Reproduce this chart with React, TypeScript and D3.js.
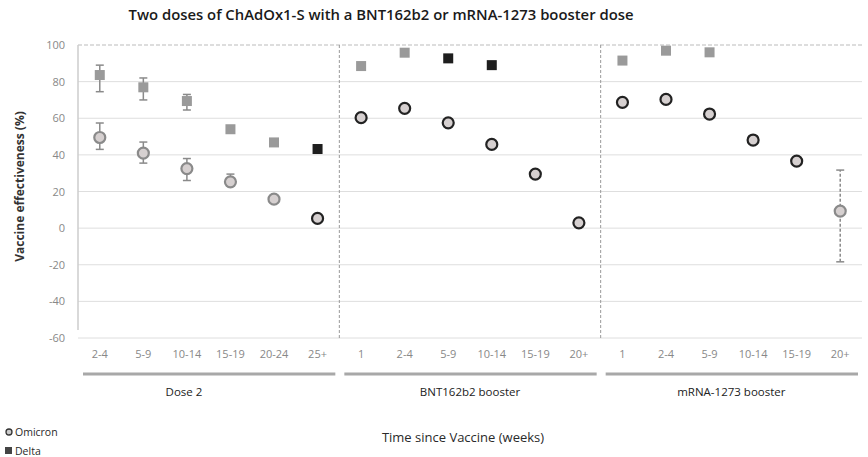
import React from "react";
import * as d3 from "d3";

// panels and their time bands
const panels = ["Dose 2", "BNT162b2 booster", "mRNA-1273 booster"];
const dose2Bands = ["2-4", "5-9", "10-14", "15-19", "20-24", "25+"];
const bntBands = ["1", "2-4", "5-9", "10-14", "15-19", "20+"];
const mrnaBands = ["1", "2-4", "5-9", "10-14", "15-19", "20+"];

// Omicron VE (%) per band, panel by panel
const omicronVE = [49.5, 41, 32.5, 25.3, 15.8, 5.3, 60.3, 65.4, 57.5, 45.7, 29.5, 2.9, 68.7, 70.3, 62.3, 48.1, 36.6, 9.3];
const omicronLo = [43, 35.5, 26, 23, null, null, null, null, null, null, null, null, null, null, null, null, null, -18.4];
const omicronHi = [57.4, 47, 38, 29.5, null, null, null, null, null, null, null, null, null, null, null, null, null, 31.7];
const omicronDark = [false, false, false, false, false, true, true, true, true, true, true, true, true, true, true, true, true, false];

// Delta VE (%) per band
const deltaVE = [83.6, 76.9, 69.4, 54, 46.8, 43.2, 88.5, 95.8, 92.7, 89, null, null, 91.5, 96.9, 96, null, null, null];
const deltaLo = [74.5, 70, 64.5, null, null, null, null, null, null, null, null, null, null, null, null, null, null, null];
const deltaHi = [89, 82, 73, null, null, null, null, null, null, null, null, null, null, null, null, null, null, null];
const deltaDark = [false, false, false, false, false, true, false, false, true, true, false, false, false, false, false, false, false, false];

const yTicks = [100, 80, 60, 40, 20, 0, -20, -40, -60];

const W = 868;
const H = 457;
const FONT = "'Open Sans', 'Liberation Sans', sans-serif";

export default function App() {
  const left = 78;
  const right = 862;
  const top = 45;
  const bottom = 338;

  const bandSets = [dose2Bands, bntBands, mrnaBands];
  const keys = bandSets.flatMap((b, p) => b.map((c) => `${p}|${c}`));

  const x = d3.scaleBand<string>().domain(keys).range([left, right]);
  const y = d3.scaleLinear().domain([-60, 100]).range([bottom, top]);

  const cx = (i: number) => (x(keys[i]) as number) + x.bandwidth() / 2;
  const panelStart = (p: number) => x(keys[p * 6]) as number;
  const panelEnd = (p: number) => (x(keys[p * 6 + 5]) as number) + x.bandwidth();

  const cap = 4;

  return (
    <div style={{ position: "absolute", left: 0, top: 0 }}>
      <svg width={W} height={H} style={{ display: "block", background: "#fff" }} fontFamily={FONT}>
        {/* title */}
        <text x={381} y={20} textAnchor="middle" fontSize={13.5} fontWeight={600} fill="#1a1a1a" textLength={505} lengthAdjust="spacingAndGlyphs">
          Two doses of ChAdOx1-S with a BNT162b2 or mRNA-1273 booster dose
        </text>

        {/* gridlines */}
        {yTicks.map((t) => (
          <line key={`g${t}`} x1={left} x2={right} y1={y(t)} y2={y(t)} stroke={t === 100 ? "#bbb" : "#dedede"} strokeWidth={1}
            strokeDasharray={t === 100 ? "4,2" : undefined} />
        ))}

        {/* y axis */}
        <line x1={left} x2={left} y1={top} y2={bottom - 8} stroke="#ccc" strokeWidth={1.5} />
        {yTicks.map((t) => (
          <text key={`t${t}`} x={65} y={y(t) + 4} textAnchor="end" fontSize={11} fill="#888">
            {t}
          </text>
        ))}
        <text transform={`translate(24,${(top + bottom) / 2 - 5}) rotate(-90)`} textAnchor="middle" fontSize={12} fontWeight="bold" fill="#333">
          Vaccine effectiveness (%)
        </text>

        {/* panel dividers */}
        {[1, 2].map((p) => (
          <line key={`d${p}`} x1={panelStart(p)} x2={panelStart(p)} y1={top} y2={bottom} stroke="#999" strokeWidth={1} strokeDasharray="3,2" />
        ))}

        {/* error bars */}
        {omicronVE.map((v, i) =>
          omicronLo[i] == null ? null : (
            <g key={`oe${i}`} stroke="#8a8a8a" strokeWidth={1.5}>
              <line x1={cx(i)} x2={cx(i)} y1={y(omicronLo[i] as number)} y2={y(omicronHi[i] as number)} strokeDasharray={i === 17 ? "3,2" : undefined} />
              <line x1={cx(i) - cap} x2={cx(i) + cap} y1={y(omicronLo[i] as number)} y2={y(omicronLo[i] as number)} />
              <line x1={cx(i) - cap} x2={cx(i) + cap} y1={y(omicronHi[i] as number)} y2={y(omicronHi[i] as number)} />
            </g>
          )
        )}
        {deltaVE.map((v, i) =>
          deltaLo[i] == null ? null : (
            <g key={`de${i}`} stroke="#8a8a8a" strokeWidth={1.5}>
              <line x1={cx(i)} x2={cx(i)} y1={y(deltaLo[i] as number)} y2={y(deltaHi[i] as number)} />
              <line x1={cx(i) - cap} x2={cx(i) + cap} y1={y(deltaLo[i] as number)} y2={y(deltaLo[i] as number)} />
              <line x1={cx(i) - cap} x2={cx(i) + cap} y1={y(deltaHi[i] as number)} y2={y(deltaHi[i] as number)} />
            </g>
          )
        )}

        {/* Delta squares */}
        {deltaVE.map((v, i) =>
          v == null ? null : (
            <rect key={`ds${i}`} x={cx(i) - 5} y={y(v) - 5} width={10} height={10} fill={deltaDark[i] ? "#1e1e1e" : "#9a9a9a"} />
          )
        )}

        {/* Omicron circles */}
        {omicronVE.map((v, i) => (
          <circle key={`oc${i}`} cx={cx(i)} cy={y(v)} r={5.5} fill="#d6d0d0" stroke={omicronDark[i] ? "#222" : "#8a8a8a"} strokeWidth={2.2} />
        ))}

        {/* category labels */}
        {keys.map((k, i) => (
          <text key={`c${k}`} x={cx(i)} y={358} textAnchor="middle" fontSize={11} fill="#888">
            {k.split("|")[1]}
          </text>
        ))}

        {/* group bars and labels */}
        {panels.map((p, j) => (
          <g key={`p${p}`}>
            <line x1={panelStart(j) + 5} x2={panelEnd(j) - 4} y1={374} y2={374} stroke="#a8a8a8" strokeWidth={3} />
            <text x={j === 0 ? 184 : (panelStart(j) + panelEnd(j)) / 2} y={396} textAnchor="middle" fontSize={11.5} fontWeight={500} fill="#222">
              {p}
            </text>
          </g>
        ))}

        {/* x axis title */}
        <text x={463} y={442} textAnchor="middle" fontSize={13} fill="#2a2a2a">
          Time since Vaccine (weeks)
        </text>

        {/* legend */}
        <circle cx={9} cy={432} r={3} fill="#ccc" stroke="#333" strokeWidth={1.3} />
        <text x={15} y={436} fontSize={10.5} fill="#2a2a2a">Omicron</text>
        <rect x={5} y={447} width={7} height={7} fill="#444" />
        <text x={15} y={455} fontSize={10.5} fill="#2a2a2a">Delta</text>
      </svg>
    </div>
  );
}
